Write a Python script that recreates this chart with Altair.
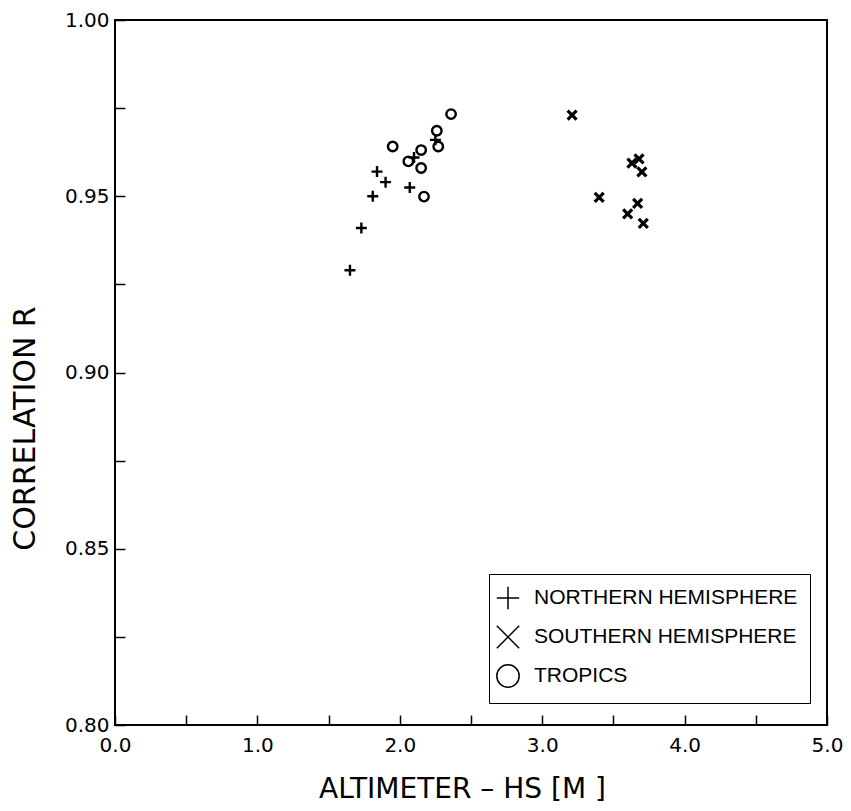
import altair as alt
import pandas as pd

# ---- data ----
series_names = ["NORTHERN HEMISPHERE", "SOUTHERN HEMISPHERE", "TROPICS"]

north_x = [1.65, 1.73, 1.81, 1.84, 1.90, 2.07, 2.10, 2.25]
north_y = [0.929, 0.941, 0.950, 0.957, 0.954, 0.9525, 0.961, 0.966]

south_x = [3.21, 3.40, 3.60, 3.63, 3.67, 3.68, 3.70, 3.71]
south_y = [0.973, 0.9497, 0.945, 0.9594, 0.948, 0.9606, 0.9569, 0.9423]

tropics_x = [1.95, 2.06, 2.15, 2.15, 2.17, 2.26, 2.27, 2.36]
tropics_y = [0.9641, 0.9599, 0.9631, 0.958, 0.9499, 0.9686, 0.9641, 0.9733]

x_ticks = [0.0, 0.5, 1.0, 1.5, 2.0, 2.5, 3.0, 3.5, 4.0, 4.5, 5.0]
y_ticks = [0.800, 0.825, 0.850, 0.875, 0.900, 0.925, 0.950, 0.975, 1.000]

rows = []
for name, xs, ys in zip(series_names,
                        [north_x, south_x, tropics_x],
                        [north_y, south_y, tropics_y]):
    for a, b in zip(xs, ys):
        rows.append({"hs": a, "r": b, "region": name})
df = pd.DataFrame(rows)

PLUS = "M-1,0L1,0M0,-1L0,1"
XSHAPE = "M-1,-1L1,1M-1,1L1,-1"

FONT = "DejaVu Sans"
LEGEND_FONT = "Liberation Sans"

x_enc = alt.X(
    "hs:Q",
    scale=alt.Scale(domain=[0, 5], nice=False, zero=False),
    axis=alt.Axis(
        title="ALTIMETER – HS [M ]",
        values=x_ticks,
        labelExpr="round(datum.value*2) % 2 == 0 ? format(datum.value, '.1f') : ''",
        grid=False,
        domain=False,
        offset=-10,
        tickSize=10,
        tickWidth=1.5,
        tickColor="black",
        labelPadding=10,
        labelFont=FONT,
        labelFontSize=20,
        labelColor="black",
        labelFlush=False,
        labelOverlap=False,
        titleFont=FONT,
        titleFontSize=28,
        titleFontWeight="normal",
        titleColor="black",
        titlePadding=20,
        titleX=347,
    ),
)

y_enc = alt.Y(
    "r:Q",
    scale=alt.Scale(domain=[0.8, 1.0], nice=False, zero=False),
    axis=alt.Axis(
        title="CORRELATION R",
        values=y_ticks,
        labelExpr="round(datum.value*40) % 2 == 0 ? format(datum.value, '.2f') : ''",
        grid=False,
        domain=False,
        offset=-10,
        tickSize=10,
        tickWidth=1.5,
        tickColor="black",
        labelPadding=6,
        labelFont=FONT,
        labelFontSize=20,
        labelColor="black",
        labelFlush=False,
        labelOverlap=False,
        titleFont=FONT,
        titleFontSize=30,
        titleFontWeight="normal",
        titleColor="black",
        titleX=-100,
        titleY=408,
        titleAlign="center",
        titleBaseline="middle",
    ),
)

shape_enc = alt.Shape(
    "region:N",
    scale=alt.Scale(domain=series_names, range=[PLUS, XSHAPE, "circle"]),
    legend=alt.Legend(
        title=None,
        orient="none",
        legendX=374,
        legendY=554,
        strokeColor="black",
        fillColor="white",
        padding=12,
        rowPadding=9,
        symbolSize=500,
        symbolStrokeWidth=1.5,
        symbolStrokeColor="black",
        symbolOffset=-5,
        labelOffset=14,
        labelFont=LEGEND_FONT,
        labelFontSize=21,
        labelColor="black",
        labelLimit=400,
    ),
)

base = alt.Chart(df).encode(x=x_enc, y=y_enc, shape=shape_enc)

styles = {
    "NORTHERN HEMISPHERE": dict(strokeWidth=2.4, size=121),
    "SOUTHERN HEMISPHERE": dict(strokeWidth=3.2, size=81),
    "TROPICS": dict(strokeWidth=2.4, size=90),
}

layers = [
    base.transform_filter(alt.datum.region == name).mark_point(
        filled=False, color="black", opacity=1, **styles[name]
    )
    for name in series_names
]

chart = (
    alt.layer(*layers)
    .properties(
        width=712,
        height=705,
        background="white",
        autosize=alt.AutoSizeParams(type="none"),
        padding={"left": 107, "top": 12, "right": 16, "bottom": 78},
    )
    .configure_view(stroke="black", strokeWidth=2, fill="white")
)

chart.save("out.html", embed_options={"renderer": "svg", "actions": False})
